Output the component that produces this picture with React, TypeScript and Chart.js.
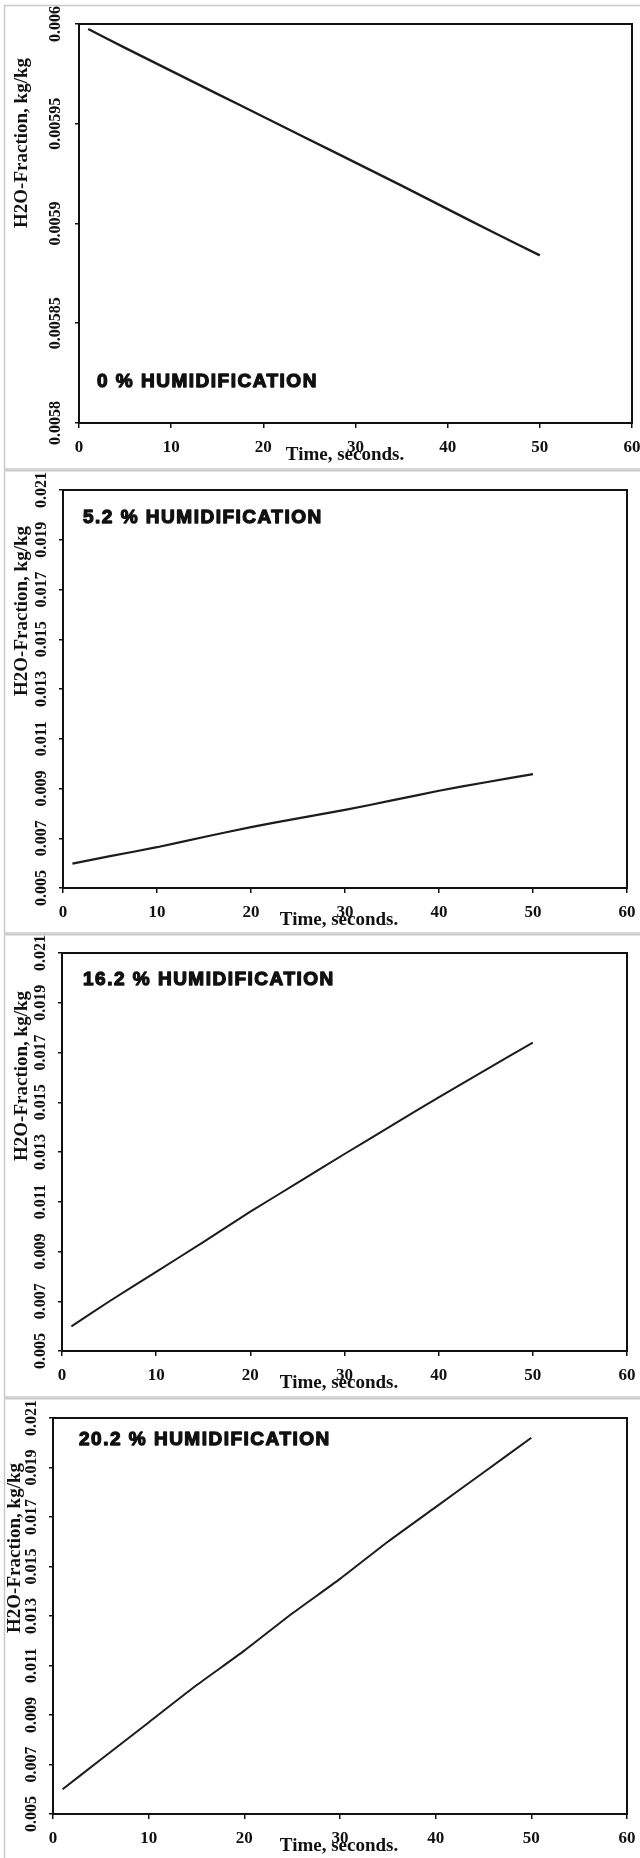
import React, { useEffect, useRef } from "react";
import { Chart, registerables } from "chart.js";

Chart.register(...registerables);

// Simulation time, seconds
const TIME_S = [1, 5, 10, 15, 20, 25, 30, 35, 40, 45, 50];

// H2O mass fraction (kg/kg) for each humidification level
const H2O_0 = [0.0059975, 0.005988, 0.0059765, 0.005965, 0.0059535, 0.005942, 0.0059305, 0.005919, 0.0059072, 0.0058955, 0.005884];
const H2O_5_2 = [0.00598, 0.00628, 0.00664, 0.00705, 0.00745, 0.0078, 0.00814, 0.00852, 0.00891, 0.00925, 0.00958];
const H2O_16_2 = [0.00599, 0.00699, 0.00818, 0.00938, 0.0106, 0.01176, 0.01292, 0.01406, 0.0152, 0.0163, 0.0174];
const H2O_20_2 = [0.006, 0.0072, 0.0087, 0.0102, 0.0116, 0.0131, 0.0145, 0.016, 0.0174, 0.0188, 0.0202];

// Axis tick labels
const X_TICKS = [0, 10, 20, 30, 40, 50, 60];
const Y_TICKS_DRY = ["0.0058", "0.00585", "0.0059", "0.00595", "0.006"];
const Y_TICKS_WET = ["0.005", "0.007", "0.009", "0.011", "0.013", "0.015", "0.017", "0.019", "0.021"];

const CASE_LABELS = ["0 % HUMIDIFICATION", "5.2 % HUMIDIFICATION", "16.2 % HUMIDIFICATION", "20.2 % HUMIDIFICATION"];
const X_TITLE = "Time, seconds.";
const Y_TITLE = "H2O-Fraction, kg/kg";

const W = 640;

type Area = { l: number; r: number; t: number; b: number };
type PanelSpec = {
  label: string;
  values: number[];
  yTicks: string[];
  top: number;
  height: number;
  area: Area;
  frameTop: number;
  frameBottom: number | null;
  note: { x: number; y: number };
  yTickX: number;
  yTitle: { x: number; y: number };
  xTitleX: number;
  lineWidth: number;
};

const PANELS: PanelSpec[] = [
  {
    label: CASE_LABELS[0], values: H2O_0, yTicks: Y_TICKS_DRY,
    top: 0, height: 470, area: { l: 79, r: 632, t: 24, b: 423 },
    frameTop: 5.5, frameBottom: 469, note: { x: 97, y: 382 },
    yTickX: 56, yTitle: { x: 22, y: 143 }, xTitleX: 345, lineWidth: 2.4,
  },
  {
    label: CASE_LABELS[1], values: H2O_5_2, yTicks: Y_TICKS_WET,
    top: 470, height: 464, area: { l: 63, r: 627, t: 20, b: 418 },
    frameTop: 0.75, frameBottom: 463, note: { x: 83, y: 48 },
    yTickX: 42, yTitle: { x: 22, y: 141 }, xTitleX: 339, lineWidth: 2.2,
  },
  {
    label: CASE_LABELS[2], values: H2O_16_2, yTicks: Y_TICKS_WET,
    top: 934, height: 464, area: { l: 62, r: 627, t: 19, b: 417 },
    frameTop: 0.75, frameBottom: 463, note: { x: 83, y: 46 },
    yTickX: 41, yTitle: { x: 22, y: 142 }, xTitleX: 339, lineWidth: 2,
  },
  {
    label: CASE_LABELS[3], values: H2O_20_2, yTicks: Y_TICKS_WET,
    top: 1398, height: 460, area: { l: 53, r: 627, t: 20, b: 416 },
    frameTop: 0.75, frameBottom: null, note: { x: 79, y: 42 },
    yTickX: 32, yTitle: { x: 15, y: 150 }, xTitleX: 339, lineWidth: 2,
  },
];

const INK = "#111111";
const SERIF = "'Liberation Serif', 'Times New Roman', serif";
const SANS = "'Liberation Sans', Arial, sans-serif";

function decorPlugin(p: PanelSpec) {
  return {
    id: "panelDecor",
    afterDraw(chart: any) {
      const { ctx, chartArea: a, scales } = chart;
      const yScale = scales.y;
      ctx.save();

      // light frame around the panel
      ctx.strokeStyle = "#c8c8c8";
      ctx.lineWidth = 1.5;
      ctx.beginPath();
      ctx.moveTo(4, p.frameTop);
      ctx.lineTo(W, p.frameTop);
      ctx.moveTo(4.5, p.frameTop);
      ctx.lineTo(4.5, p.frameBottom ?? p.height);
      if (p.frameBottom !== null) {
        ctx.moveTo(4, p.frameBottom);
        ctx.lineTo(W, p.frameBottom);
      }
      ctx.stroke();

      // plot box
      ctx.strokeStyle = INK;
      ctx.lineWidth = 2;
      ctx.strokeRect(a.left, a.top, a.right - a.left, a.bottom - a.top);

      // rotated y tick labels
      ctx.fillStyle = INK;
      ctx.font = `bold 16px ${SERIF}`;
      ctx.textAlign = "center";
      ctx.textBaseline = "middle";
      p.yTicks.forEach((t) => {
        const py = yScale.getPixelForValue(parseFloat(t));
        ctx.save();
        ctx.translate(p.yTickX, py);
        ctx.rotate(-Math.PI / 2);
        ctx.fillText(t, 0, 0);
        ctx.restore();
      });

      // y axis title
      ctx.font = `bold 19px ${SERIF}`;
      ctx.save();
      ctx.translate(p.yTitle.x, p.yTitle.y);
      ctx.rotate(-Math.PI / 2);
      ctx.fillText(Y_TITLE, 0, 0);
      ctx.restore();

      // x axis title
      ctx.fillText(X_TITLE, p.xTitleX, a.bottom + 32);

      // case label, heavy sans
      ctx.font = `bold 19px ${SANS}`;
      (ctx as any).letterSpacing = "1.5px";
      ctx.textAlign = "left";
      ctx.strokeStyle = INK;
      ctx.lineWidth = 1.3;
      ctx.lineJoin = "round";
      ctx.fillText(p.label, p.note.x, p.note.y);
      ctx.strokeText(p.label, p.note.x, p.note.y);
      (ctx as any).letterSpacing = "0px";

      ctx.restore();
    },
  };
}

function PanelChart({ p }: { p: PanelSpec }) {
  const ref = useRef<HTMLCanvasElement>(null);

  useEffect(() => {
    const canvas = ref.current;
    if (!canvas) return;
    const yVals = p.yTicks.map((t) => parseFloat(t));
    const chart = new Chart(canvas, {
      type: "line",
      data: {
        datasets: [
          {
            data: TIME_S.map((t, i) => ({ x: t, y: p.values[i] })),
            borderColor: "#1c1c1c",
            borderWidth: p.lineWidth,
            pointRadius: 0,
            tension: 0.2,
            fill: false,
          },
        ],
      },
      options: {
        animation: false,
        responsive: false,
        events: [],
        layout: { padding: { left: 0, top: p.area.t, right: W - p.area.r, bottom: 0 } },
        plugins: { legend: { display: false }, tooltip: { enabled: false }, title: { display: false } },
        scales: {
          x: {
            type: "linear",
            min: X_TICKS[0],
            max: X_TICKS[X_TICKS.length - 1],
            afterBuildTicks: (s: any) => {
              s.ticks = X_TICKS.map((v) => ({ value: v }));
            },
            afterFit: (s: any) => {
              s.height = p.height - p.area.b;
              s.paddingLeft = 0;
              s.paddingRight = 0;
            },
            grid: { display: true, drawOnChartArea: false, drawTicks: true, tickLength: 5, color: INK, lineWidth: 1.5 },
            border: { display: true, color: INK, width: 2 },
            ticks: {
              color: INK,
              font: { family: SERIF, size: 17, weight: "bold" },
              padding: 9,
              maxRotation: 0,
              autoSkip: false,
              callback: (v: any) => String(v),
            },
          },
          y: {
            type: "linear",
            min: yVals[0],
            max: yVals[yVals.length - 1],
            afterBuildTicks: (s: any) => {
              s.ticks = yVals.map((v) => ({ value: v }));
            },
            afterFit: (s: any) => {
              s.width = p.area.l;
              s.paddingTop = 0;
              s.paddingBottom = 0;
            },
            grid: { display: true, drawOnChartArea: false, drawTicks: true, tickLength: 4, color: INK, lineWidth: 1.5 },
            border: { display: true, color: INK, width: 2 },
            ticks: { display: false },
          },
        },
      },
      plugins: [decorPlugin(p)],
    } as any);
    return () => chart.destroy();
  }, [p]);

  return (
    <canvas
      ref={ref}
      width={W}
      height={p.height}
      style={{ position: "absolute", left: 0, top: p.top, width: W, height: p.height }}
    />
  );
}

export default function App() {
  return (
    <div style={{ position: "absolute", left: 0, top: 0, width: W, height: 1858, background: "#ffffff" }}>
      {PANELS.map((p, i) => (
        <PanelChart key={i} p={p} />
      ))}
    </div>
  );
}
